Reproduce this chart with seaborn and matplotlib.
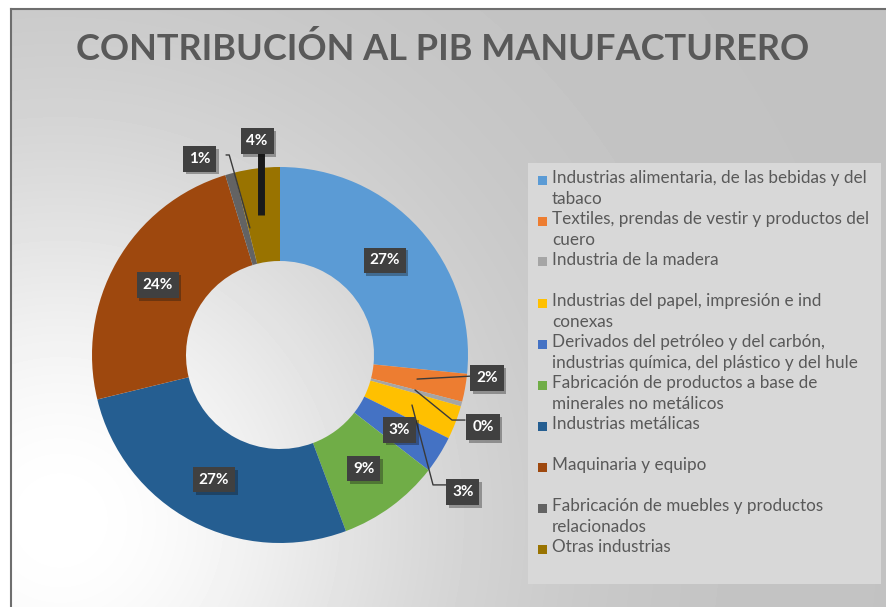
import numpy as np
import seaborn as sns
import matplotlib.pyplot as plt
import matplotlib.patheffects as pe
from matplotlib.patches import Rectangle

sns.set_theme(style="white")
plt.rcParams['font.family'] = ['Lato', 'DejaVu Sans']

#%% data

titulo = 'CONTRIBUCIÓN AL PIB MANUFACTURERO'

categorias = ['Industrias alimentaria, de las bebidas y del\ntabaco',
              'Textiles, prendas de vestir y productos del\ncuero',
              'Industria de la madera',
              'Industrias del papel, impresión e ind\nconexas',
              'Derivados del petróleo y del carbón,\nindustrias química, del plástico y del hule',
              'Fabricación de productos a base de\nminerales no metálicos',
              'Industrias metálicas',
              'Maquinaria y equipo',
              'Fabricación de muebles y productos\nrelacionados',
              'Otras industrias']

# percent of total
valores = [26.6, 2.4, 0.4, 2.9, 3.2, 8.8, 26.9, 24.1, 0.8, 3.9]

colores = ['#5B9BD5', '#ED7D31', '#A5A5A5', '#FFC000', '#4472C4',
           '#70AD47', '#255E91', '#9E480E', '#636363', '#997300']

#%% figure + background

W, H = 886, 607
fig = plt.figure(figsize=(W / 100, H / 100), dpi=100, facecolor='white')

# gray chart area with a soft light glow at lower left
bg = fig.add_axes([11 / W, 0, (W - 11) / W, (H - 9) / H])
yy, xx = np.mgrid[9:H, 11:W]
glow = np.exp(-((xx - 60) ** 2 + (yy - 520) ** 2) / (2 * 260.0 ** 2))
tono = 0.76 + 0.24 * glow
bg.imshow(tono, cmap='gray', vmin=0, vmax=1, aspect='auto',
          extent=[0, 1, 0, 1], interpolation='bilinear')
bg.set_xlim(0, 1)
bg.set_ylim(0, 1)
bg.set_xticks([])
bg.set_yticks([])
for s in ['right', 'bottom']:
    bg.spines[s].set_visible(False)
for s in ['left', 'top']:
    bg.spines[s].set_color('#6e6e6e')
    bg.spines[s].set_linewidth(1.5)

fig.text(443 / W, 1 - 49 / H, titulo, ha='center', va='center',
         fontsize=26, fontweight='bold', color='#595959')

#%% donut

cx, cy, r = 280, 355, 188
ax = fig.add_axes([(cx - r) / W, (H - cy - r) / H, 2 * r / W, 2 * r / H])
ax.patch.set_alpha(0)
wedges, _ = ax.pie(valores, colors=colores, startangle=90, counterclock=False,
                   radius=1, wedgeprops=dict(width=0.5, linewidth=0))
ax.set_xlim(-1, 1)
ax.set_ylim(-1, 1)
ax.set_axis_off()

# labels that Excel moved out of the ring, with their leader lines
fuera = {1: ((1.101, -0.122), [(0.729, -0.128), (1.021, -0.112)]),
         2: ((1.080, -0.383), [(0.718, -0.186), (0.915, -0.346), (0.984, -0.346)]),
         3: ((0.973, -0.729), [(0.702, -0.266), (0.814, -0.691), (0.888, -0.691)]),
         8: ((-0.426, 1.043), [(-0.287, 1.064), (-0.270, 1.064), (-0.160, 0.676)])}

for i, w in enumerate(wedges):
    txt = f'{round(valores[i])}%'
    if i in fuera:
        pos, linea = fuera[i]
        lx, ly = zip(*linea)
        ax.plot(lx, ly, color='#3a3a3a', lw=1, clip_on=False)
    elif i == 9:
        pos = (-0.122, 1.138)
        ax.plot([-0.101, -0.101], [1.09, 0.745], color='#1a1a1a', lw=5,
                solid_capstyle='butt', clip_on=False)
    else:
        ang = np.deg2rad((w.theta1 + w.theta2) / 2)
        pos = (0.75 * np.cos(ang), 0.75 * np.sin(ang))
    t = ax.text(pos[0], pos[1], txt, ha='center', va='center', fontsize=11,
                fontweight='bold', color='white', clip_on=False,
                bbox=dict(boxstyle='square,pad=0.38', fc='#404040', ec='none'))
    t.get_bbox_patch().set_path_effects(
        [pe.SimplePatchShadow(offset=(2, -2), alpha=0.35), pe.Normal()])

#%% legend box, drawn by hand to keep Excel's slot spacing

fig.patches.append(Rectangle((528 / W, 1 - 584 / H), 353 / W, 421 / H,
                             transform=fig.transFigure, fc='#d8d8d8', ec='none'))

for i, (cat, col) in enumerate(zip(categorias, colores)):
    y = 180 + 41 * i
    fig.patches.append(Rectangle((538 / W, 1 - (y + 4.5) / H), 9 / W, 9 / H,
                                 transform=fig.transFigure, fc=col, ec='none'))
    fig.text(552 / W, 1 - (y - 10) / H, cat, ha='left', va='top',
             fontsize=12.3, color='#595959', linespacing=1.4)

fig.savefig('out.png', dpi=100)
